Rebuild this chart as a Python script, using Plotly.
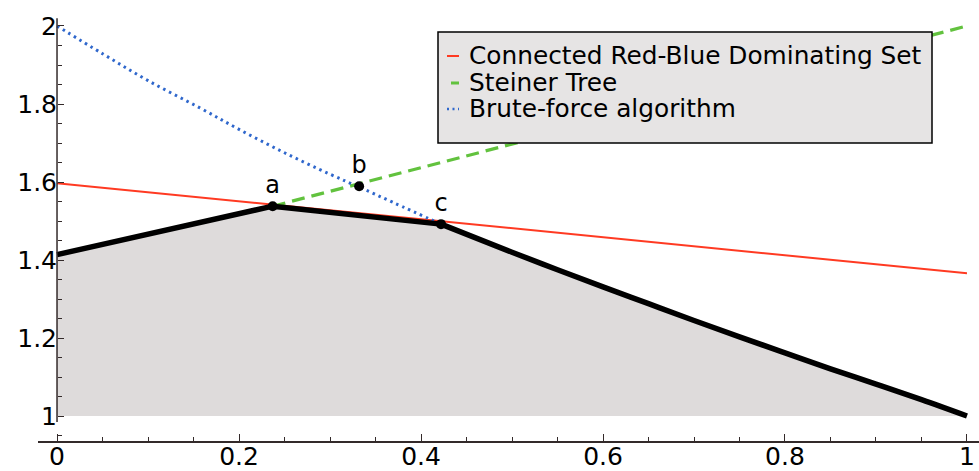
import plotly.graph_objects as go

# ---------------- data ----------------
RED_X = [0.0, 1.0]
RED_Y = [1.597, 1.366]

GREEN_X = [0.237, 1.0]
GREEN_Y = [1.538, 2.0]

BLUE_X = [0.0, 0.05, 0.1, 0.157, 0.2, 0.25, 0.3, 0.332, 0.37, 0.422]
BLUE_Y = [2.0, 1.929, 1.86, 1.790, 1.735, 1.675, 1.620, 1.587, 1.547, 1.492]

BLACK_X = [0.0, 0.237, 0.422, 0.5, 0.55, 0.6, 0.65, 0.7, 0.75, 0.8, 0.85, 0.9, 0.95, 1.0]
BLACK_Y = [1.414, 1.538, 1.492, 1.420, 1.375, 1.331, 1.288, 1.245, 1.203, 1.162, 1.121, 1.082, 1.042, 1.0]
BREAK_INDEX = 2  # corner point c, after which the envelope is smooth

BASE_Y = [1.0] * len(BLACK_X)

POINT_LABELS = ["a", "b", "c"]
POINT_X = [0.237, 0.332, 0.422]
POINT_Y = [1.538, 1.589, 1.492]

Y_TICKS = [1.0, 1.2, 1.4, 1.6, 1.8, 2.0]
Y_TICK_TEXT = ["1", "1.2", "1.4", "1.6", "1.8", "2"]
X_TICKS = [0.0, 0.2, 0.4, 0.6, 0.8, 1.0]
X_TICK_TEXT = ["0", "0.2", "0.4", "0.6", "0.8", "1"]

LEGEND_NAMES = ["Connected Red-Blue Dominating Set", "Steiner Tree", "Brute-force algorithm"]

RED = "#ff3a22"
GREEN = "#62c23e"
BLUE = "#2f67cc"
FILL = "#dedbdb"
AXIS = "#332a2a"
FONT = "DejaVu Sans"

W, H = 979, 471
ML, MR, MT, MB = 38, 0, 10, 30
XR = [-0.0209, 1.0132]
YR = [0.936, 2.041]

fig = go.Figure()

# fill under the envelope, down to y = 1
fig.add_trace(go.Scatter(x=BLACK_X, y=BASE_Y, mode="lines", line=dict(width=0),
                         hoverinfo="skip", showlegend=False))
fig.add_trace(go.Scatter(x=BLACK_X, y=BLACK_Y, mode="lines", line=dict(width=0),
                         fill="tonexty", fillcolor=FILL, hoverinfo="skip", showlegend=False))

fig.add_trace(go.Scatter(x=RED_X, y=RED_Y, mode="lines", name=LEGEND_NAMES[0],
                         line=dict(color=RED, width=2), showlegend=False))
fig.add_trace(go.Scatter(x=GREEN_X, y=GREEN_Y, mode="lines", name=LEGEND_NAMES[1],
                         line=dict(color=GREEN, width=3.2, dash="13px,7px"), showlegend=False))
fig.add_trace(go.Scatter(x=BLUE_X, y=BLUE_Y, mode="lines", name=LEGEND_NAMES[2],
                         line=dict(color=BLUE, width=3, dash="2.5px,4px", shape="spline"),
                         showlegend=False))
# envelope: straight part up to c, smooth part after c
fig.add_trace(go.Scatter(x=BLACK_X[:BREAK_INDEX + 1], y=BLACK_Y[:BREAK_INDEX + 1], mode="lines",
                         line=dict(color="black", width=5.5), showlegend=False))
fig.add_trace(go.Scatter(x=BLACK_X[BREAK_INDEX:], y=BLACK_Y[BREAK_INDEX:], mode="lines",
                         line=dict(color="black", width=5.5, shape="spline"), showlegend=False))
fig.add_trace(go.Scatter(x=POINT_X, y=POINT_Y, mode="markers+text", text=POINT_LABELS,
                         textposition="top center",
                         textfont=dict(family=FONT, size=24, color="black"),
                         marker=dict(color="black", size=10), showlegend=False))


def px2x(px):
    return (px - ML) / (W - ML - MR)


def py2y(py):
    return (H - MB - py) / (H - MB - MT)


shapes = []
# y axis line (drawn in data coordinates on x = 0)
shapes.append(dict(type="line", xref="x", yref="y", x0=0, x1=0, y0=0.985, y1=2.02,
                   line=dict(color=AXIS, width=1.5), layer="above"))

# legend box
shapes.append(dict(type="rect", xref="paper", yref="paper",
                   x0=px2x(438), x1=px2x(932), y0=py2y(143), y1=py2y(32),
                   fillcolor="#e6e4e4", line=dict(color="black", width=1.5), layer="above"))
rows = [56, 83, 109]
samples = [(447, 459, RED, 2, "solid"), (451, 459, GREEN, 3, "solid"), (447, 459, BLUE, 2.5, "2px,3.5px")]
for (a, b, c, w, d), r in zip(samples, rows):
    shapes.append(dict(type="line", xref="paper", yref="paper",
                       x0=px2x(a), x1=px2x(b), y0=py2y(r), y1=py2y(r),
                       line=dict(color=c, width=w, dash=d), layer="above"))

annotations = []
for name, r in zip(LEGEND_NAMES, rows):
    annotations.append(dict(text=name, xref="paper", yref="paper", x=px2x(467), y=py2y(r),
                            xanchor="left", yanchor="middle", showarrow=False,
                            font=dict(family=FONT, size=24.8, color="black")))

fig.update_layout(
    width=W, height=H,
    margin=dict(l=ML, r=MR, t=MT, b=MB, pad=0),
    paper_bgcolor="white", plot_bgcolor="white",
    font=dict(family=FONT, size=24, color="black"),
    shapes=shapes, annotations=annotations,
    showlegend=False,
    xaxis=dict(range=XR, showgrid=False, zeroline=False, showline=True,
               linecolor=AXIS, linewidth=1.5, mirror=False,
               tickmode="array", tickvals=X_TICKS, ticktext=X_TICK_TEXT,
               ticks="inside", ticklen=7, tickwidth=1.2, tickcolor=AXIS,
               tickfont=dict(family=FONT, size=25, color="black"),
               ticklabelstandoff=-8,
               minor=dict(dtick=0.05, tick0=0, ticks="inside", ticklen=4, tickcolor=AXIS, tickwidth=1),
               automargin=False, fixedrange=True),
    yaxis=dict(range=YR, showgrid=False, zeroline=False, showline=False,
               anchor="free", position=px2x(57),
               tickmode="array", tickvals=Y_TICKS, ticktext=Y_TICK_TEXT,
               ticks="inside", ticklen=6, tickwidth=1.2, tickcolor=AXIS,
               tickfont=dict(family=FONT, size=25, color="black"),
               minor=dict(dtick=0.05, tick0=1, ticks="inside", ticklen=4, tickcolor=AXIS, tickwidth=1),
               automargin=False, fixedrange=True),
)

fig.write_html("out.html", config={"displayModeBar": False},
               post_script="document.body.style.margin='0';document.body.style.padding='0';document.body.style.overflow='hidden';")
